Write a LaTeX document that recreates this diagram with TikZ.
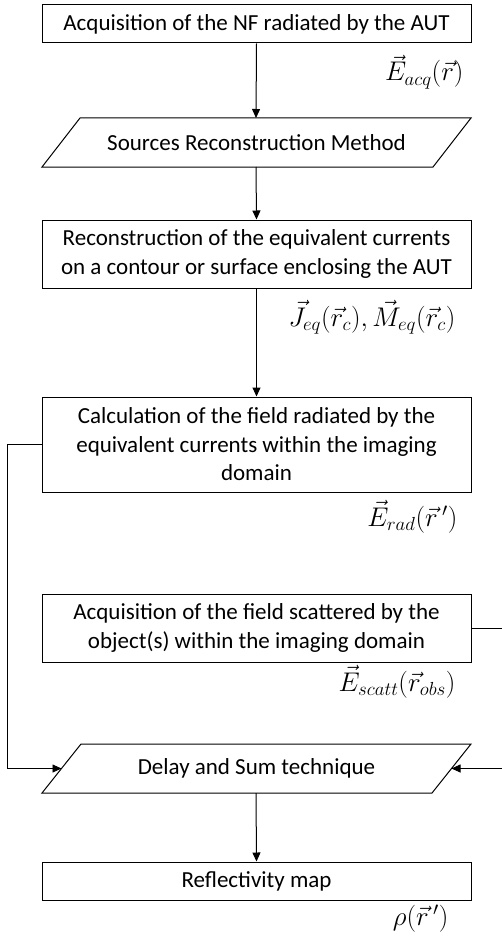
\RequirePackage{fix-cm}
\documentclass[tikz,border=0pt]{standalone}
\usepackage{fontspec}
\setmainfont{Carlito}
\usetikzlibrary{arrows.meta}
\begin{document}
\begin{tikzpicture}[x=1pt,y=-1pt,line width=1pt,
  box/.style={draw,minimum width=429pt,inner sep=0pt,align=center,font=\fontsize{23}{28.5}\selectfont},
  txt/.style={inner sep=0pt,align=center,font=\fontsize{23}{28.5}\selectfont},
  para/.style={draw,line join=miter},
  lbl/.style={anchor=base east,inner sep=0pt,font=\fontsize{27}{30}\selectfont},
  arr/.style={-{Triangle[length=9pt,width=8pt]}},
  link/.style={line width=0.9pt}]
\useasboundingbox (0,0) rectangle (501,939);
% boxes
\node[box,minimum height=38pt] (b1) at (256.5,24) {Acquisition of the NF radiated by the AUT};
\node[box,minimum height=68pt] (b3) at (256.5,254) {Reconstruction of the equivalent currents\\on a contour or surface enclosing the AUT};
\node[box,minimum height=95pt] (b4) at (256.5,444.5) {Calculation of the field radiated by the\\equivalent currents within the imaging\\domain};
\node[box,minimum height=68pt] (b5) at (256.5,628) {Acquisition of the field scattered by the\\object(s) within the imaging domain};
\node[box,minimum height=38pt] (b6) at (256.5,881) {Reflectivity map};
% parallelogram 1
\coordinate (p1n) at (256,118);
\coordinate (p1s) at (256,167);
\draw[para] (80,118) -- (471,118) -- (433,167) -- (42,167) -- cycle;
\node[txt] (t1) at (256.5,142.5) {Sources Reconstruction Method};
% parallelogram 2
\coordinate (p2n) at (256,744);
\coordinate (p2s) at (256,793);
\coordinate (p2w) at (61.5,768.5);
\coordinate (p2e) at (451.5,768.5);
\draw[para] (81,744) -- (471,744) -- (432,793) -- (42,793) -- cycle;
\node[txt] (t2) at (256.5,768.5) {Delay and Sum technique};
% labels
\node[lbl] (l1) at (464,81) {$\vec{E}_{acq}(\vec{r})$};
\node[lbl] (l2) at (456,326) {$\vec{J}_{eq}(\vec{r}_c),\vec{M}_{eq}(\vec{r}_c)$};
\node[lbl] (l3) at (458,526) {$\vec{E}_{rad}(\vec{r}\,')$};
\node[lbl] (l4) at (456,691) {$\vec{E}_{scatt}(\vec{r}_{obs})$};
\node[lbl] (l5) at (449,925) {$\rho(\vec{r}\,')$};
% connectors
\draw[arr] (b1.south) -- (p1n);
\draw[arr] (p1s) -- (b3.north);
\draw[arr] (b3.south) -- (b4.north);
\draw[arr] (p2s) -- (b6.north);
\coordinate (lc1) at (7,444.5);
\coordinate (lc2) at (7,768.5);
\draw[arr,link] (b4.west) -- (lc1) -- (lc2) -- (p2w);
\coordinate (rc1) at (502,628);
\coordinate (rc2) at (502,768.5);
\draw[arr,link] (b5.east) -- (rc1) -- (rc2) -- (p2e);
\end{tikzpicture}
\end{document}
